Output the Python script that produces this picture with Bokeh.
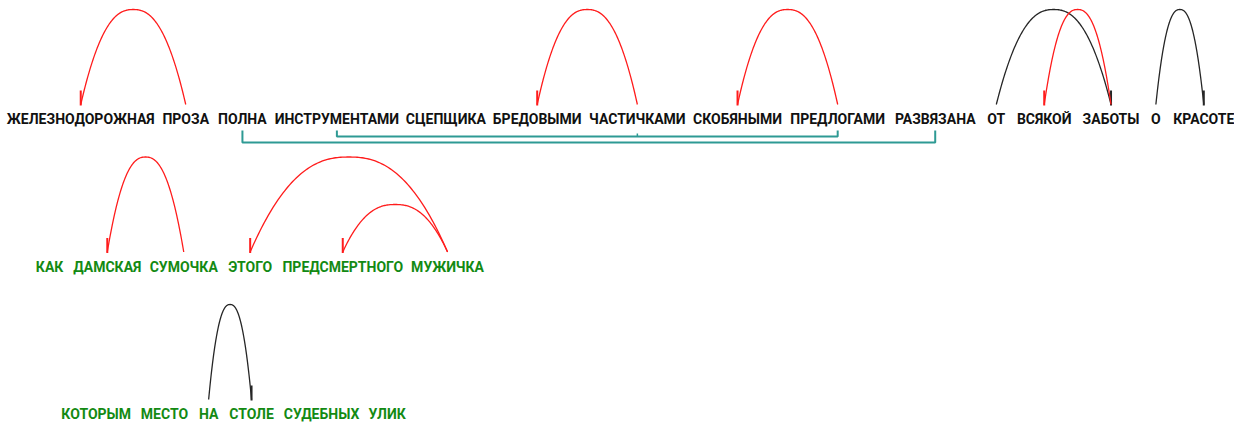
import numpy as np
from bokeh.plotting import figure
from bokeh.models import Range1d
from bokeh.core.properties import value
from bokeh.embed import file_html
from bokeh.resources import INLINE

# ---------------- data ----------------
row1_words = ["ЖЕЛЕЗНОДОРОЖНАЯ", "ПРОЗА", "ПОЛНА", "ИНСТРУМЕНТАМИ", "СЦЕПЩИКА",
              "БРЕДОВЫМИ", "ЧАСТИЧКАМИ", "СКОБЯНЫМИ", "ПРЕДЛОГАМИ", "РАЗВЯЗАНА",
              "ОТ", "ВСЯКОЙ", "ЗАБОТЫ", "О", "КРАСОТЕ"]
row2_words = ["КАК", "ДАМСКАЯ", "СУМОЧКА", "ЭТОГО", "ПРЕДСМЕРТНОГО", "МУЖИЧКА"]
row3_words = ["КОТОРЫМ", "МЕСТО", "НА", "СТОЛЕ", "СУДЕБНЫХ", "УЛИК"]
rows = [row1_words, row2_words, row3_words]

# arcs: row, left word, right word, word carrying the arrow, kind, level
arc_row   = [0, 0, 0, 0, 0, 0, 1, 1, 1, 2]
arc_left  = [0, 5, 7, 10, 11, 13, 1, 3, 4, 2]
arc_right = [1, 6, 8, 12, 12, 14, 2, 5, 5, 3]
arc_arrow = [0, 5, 7, 12, 11, 14, 1, 3, 4, 3]
arc_kind  = ["red", "red", "red", "black", "red", "black", "red", "red", "red", "black"]
arc_level = [2, 2, 2, 2, 2, 2, 2, 2, 1, 2]

# brackets (homogeneous members) under row 1: member words, level
bracket_row = [0, 0]
bracket_members = [[2, 9], [3, 6, 8]]
bracket_level = [2, 1]

# ---------------- layout / style ----------------
W, H = 1234, 424
KIND_COLOR = {"red": "#ff1c1c", "black": "#262626"}
ROW_TEXT_COLOR = ["#111111", "#138a13", "#138a13"]
ROW_CENTER_Y = [118.5, 266.0, 413.5]
ROW_START_X = [10, 36, 63]
ROW_CHAR_W = [8.78, 8.72, 8.6]
GAP = 12.8
CHAR_FACTOR = {"Ж": 1.5, "Ш": 1.3, "Щ": 1.3, "Ы": 1.3, "М": 1.3, "Ю": 1.3}
FONT = "Roboto"


def word_centers(words, start, cw):
    out = []
    x = start
    for w in words:
        width = sum(cw * CHAR_FACTOR.get(c, 1.0) for c in w)
        out.append(x + width / 2)
        x += width + GAP
    return out


centers = [word_centers(r, ROW_START_X[i], ROW_CHAR_W[i]) for i, r in enumerate(rows)]

p = figure(width=W, height=H, x_range=Range1d(0, W), y_range=Range1d(H, 0),
           output_backend="svg", toolbar_location=None, min_border=0)
p.axis.visible = False
p.grid.visible = False
p.outline_line_color = None
p.background_fill_color = "white"
p.border_fill_color = "white"

# words
for i, r in enumerate(rows):
    p.text(x=centers[i], y=[ROW_CENTER_Y[i]] * len(r), text=r,
           text_align="center", text_baseline="middle",
           text_font=value(FONT), text_font_style="bold", text_font_size="14px",
           text_color=ROW_TEXT_COLOR[i])

# arcs
FULL_H = 95.0
for k in range(len(arc_row)):
    r = arc_row[k]
    xa = centers[r][arc_left[k]]
    xb = centers[r][arc_right[k]]
    base = ROW_CENTER_Y[r] - 14.5
    h = FULL_H * arc_level[k] / 2.0
    t = np.linspace(-1, 1, 121)
    xs = (xa + xb) / 2 + t * (xb - xa) / 2
    ys = base - h * (1 - np.abs(t) ** 2.4)
    col = KIND_COLOR[arc_kind[k]]
    p.line(xs, ys, line_color=col, line_width=1.3)
    xr = centers[r][arc_arrow[k]]
    p.segment(x0=[xr], y0=[base + 1], x1=[xr], y1=[base - 14], line_color=col, line_width=2)

# brackets
TEAL = "#2e9a94"
for k in range(len(bracket_row)):
    r = bracket_row[k]
    mem = bracket_members[k]
    top = ROW_CENTER_Y[r] + 11.5
    ly = ROW_CENTER_Y[r] + 11.5 + 6 * bracket_level[k]
    xs_m = [centers[r][m] for m in mem]
    p.line([xs_m[0], xs_m[0], xs_m[-1], xs_m[-1]], [top, ly, ly, top],
           line_color=TEAL, line_width=2)
    for xm in xs_m[1:-1]:
        p.segment(x0=[xm], y0=[ly - 3], x1=[xm], y1=[ly], line_color=TEAL, line_width=1.5)

open("out.html", "w").write(file_html(p, INLINE))
